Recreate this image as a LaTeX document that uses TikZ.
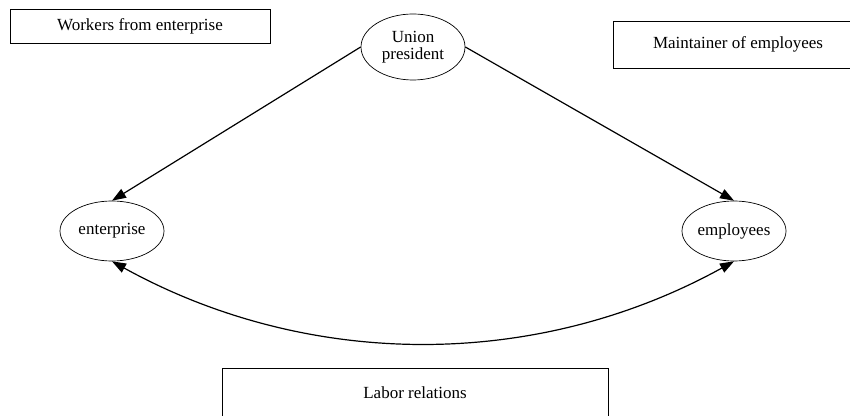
\documentclass[tikz,border=0pt]{standalone}
\usepackage{fontspec}
\setmainfont{Liberation Serif}
\usepackage{tikz}
\usetikzlibrary{arrows.meta, shapes.geometric}

\begin{document}
\begin{tikzpicture}[x=1pt, y=1pt, font=\fontsize{17}{19}\selectfont,
  box/.style={rectangle, draw, line width=0.9pt},
  oval/.style={ellipse, draw, line width=0.7pt, minimum width=104pt, minimum height=60pt, inner sep=0pt, align=center},
  link/.style={-{Triangle[length=14pt, width=10pt]}, line width=1.2pt}]

 \useasboundingbox (0,0) rectangle (850,415);

 % Nodes
 \node[oval, minimum height=66pt] (union) at (413,368) {Union\\[-2pt]president};
 \node[oval] (enterprise) at (112,184) {enterprise};
 \node[oval] (employees) at (734,184) {employees};

 % Labels in boxes
 \node[box, minimum width=260pt, minimum height=34pt] (workers) at (140,389) {Workers from enterprise};
 \node[box, minimum width=250pt, minimum height=47pt] (maintainer) at (738,370.5) {Maintainer of employees};
 \node[box, minimum width=386pt, minimum height=50pt] (labor) at (415,22) {Labor relations};

 % Arrows from the president
 \draw[link] (union.west) -- (enterprise.north);
 \draw[link] (union.east) -- (employees.north);

 % Two-way arrow below
 \draw[link, {Triangle[length=14pt, width=10pt]}-{Triangle[length=14pt, width=10pt]}] (enterprise.south) .. controls (309,45) and (537,45) .. (employees.south);

\end{tikzpicture}
\end{document}
